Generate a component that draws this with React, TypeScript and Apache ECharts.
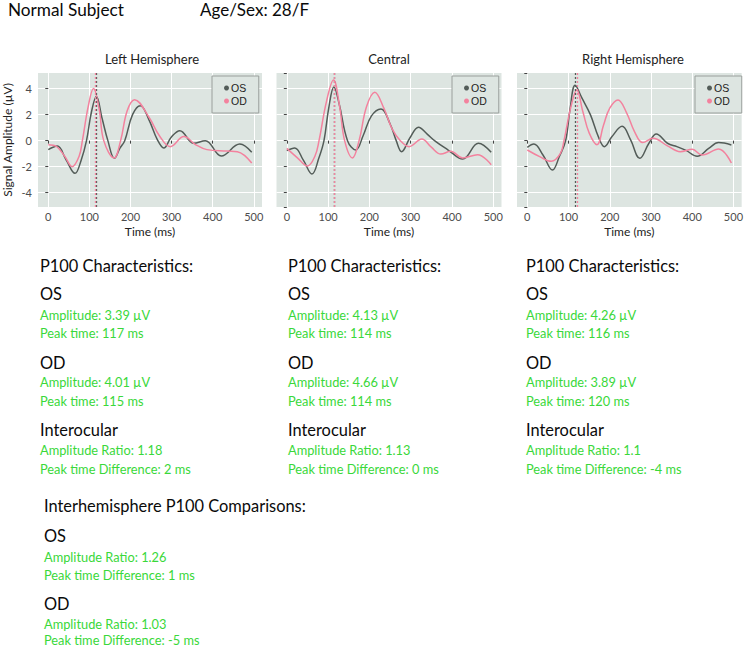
import React, { useEffect, useRef } from "react";
import * as echarts from "echarts";

// ---------- data ----------
const panelTitles = ["Left Hemisphere", "Central", "Right Hemisphere"];
const eyeNames = ["OS", "OD"];

const leftOsTime = [0, 22, 43, 65, 80, 93, 105, 117, 131, 145, 161, 174, 186, 205, 224, 245, 265, 281, 300, 320, 354, 382, 421, 466, 495];
const leftOsAmp = [-0.69, -0.41, -1.45, -2.51, -1.5, 0, 2.2, 3.39, 1.7, 0, -1.36, -0.6, 0, 2.0, 2.69, 1.6, 0.1, -0.56, 0.3, 0.77, -0.2, 0.0, -1.18, -0.26, -0.9];
const leftOdTime = [0, 20, 40, 58, 75, 83, 97, 110, 124, 135, 160, 176, 192, 210, 245, 270, 297, 330, 358, 386, 435, 460, 495];
const leftOdAmp = [-0.31, -0.45, -1.2, -2.0, -1.2, 0, 2.6, 4.01, 2.4, 0, -1.33, 0, 2.3, 3.15, 1.8, 0.4, -0.46, 0.31, -0.3, -0.69, -0.8, -0.85, -1.72];

const centralOsTime = [0, 19, 40, 61, 78, 90, 102, 114, 127, 147, 167, 185, 205, 228, 250, 265, 278, 298, 319, 340, 361, 390, 426, 464, 495];
const centralOsAmp = [-0.77, -0.56, -1.5, -2.56, -1.3, 0, 2.6, 4.13, 2.8, 0, -0.72, 0.4, 1.9, 2.44, 1.3, 0, -0.85, 0.2, 1.03, 0.5, -0.08, -0.7, -1.41, -0.2, -0.9];
const centralOdTime = [0, 25, 50, 68, 78, 96, 113, 128, 140, 159, 175, 193, 213, 235, 255, 275, 296, 327, 350, 373, 397, 426, 462, 495];
const centralOdAmp = [-0.59, -1.3, -1.95, -1.2, 0, 3.0, 4.66, 2.6, 0, -1.33, 0, 2.6, 3.72, 2.5, 0.9, 0, -0.46, 0.13, -0.5, -1.03, -0.82, -1.33, -1.08, -1.85];

const rightOsTime = [0, 16, 38, 61, 78, 93, 104, 116, 132, 153, 173, 187, 205, 230, 250, 273, 295, 313, 340, 363, 385, 412, 440, 464, 495];
const rightOsAmp = [-0.51, -0.26, -1.1, -2.26, -1.2, 0, 2.5, 4.26, 3.3, 2.0, 0.25, -0.46, 0.3, 1.1, 0.1, -1.36, -0.2, 0.51, -0.2, -0.46, -0.75, -1.2, -0.6, -0.15, -0.33];
const rightOdTime = [0, 30, 58, 80, 89, 105, 120, 135, 150, 169, 185, 200, 220, 240, 260, 280, 305, 340, 371, 400, 424, 464, 495];
const rightOdAmp = [-0.72, -1.23, -1.59, -1.0, 0, 2.5, 3.89, 2.2, 0.6, -0.31, 1.2, 2.5, 3.13, 2.2, 0.7, -0.15, 0.18, -0.4, -0.85, -0.67, -1.1, -0.64, -1.72];

const osPeakAmp = [3.39, 4.13, 4.26];
const osPeakTime = [117, 114, 116];
const odPeakAmp = [4.01, 4.66, 3.89];
const odPeakTime = [115, 114, 120];
const interAmpRatio = [1.18, 1.13, 1.1];
const interPeakDiff = [2, 0, -4];

const hemiAmpRatio = [1.26, 1.03];
const hemiPeakDiff = [1, -5];

const subjectLabel = "Normal Subject";
const ageSexLabel = "Age/Sex: 28/F";

// ---------- styles ----------
const OS_COLOR = "#535c58";
const OD_COLOR = "#f3829e";
const PANEL_BG = "#dde5e1";
const GREEN = "#3ad83a";
const INK = "#0a0a0a";
const FONT = "Lato";
const HEAD = 16.4;
const SMALL = 12.8;

const gridLefts = [37, 276.5, 517];
const colX = [40, 288, 526];
const titleX = [152, 389, 633];

const zip = (t: number[], v: number[]) => t.map((x, i) => [x, v[i]]);

export default function App() {
  const ref = useRef<HTMLDivElement>(null);

  useEffect(() => {
    if (!ref.current) return;
    const chart = echarts.init(ref.current, undefined, { renderer: "svg" });

    const curves = [
      [zip(leftOsTime, leftOsAmp), zip(leftOdTime, leftOdAmp)],
      [zip(centralOsTime, centralOsAmp), zip(centralOdTime, centralOdAmp)],
      [zip(rightOsTime, rightOsAmp), zip(rightOdTime, rightOdAmp)],
    ];
    const peakTimes = [osPeakTime, odPeakTime];
    const colors = [OS_COLOR, OD_COLOR];

    const grids = gridLefts.map((l) => ({
      left: l,
      top: 73,
      width: 225,
      height: 134,
      show: true,
      backgroundColor: PANEL_BG,
      borderWidth: 0,
    }));

    const xAxes = gridLefts.map((_, i) => ({
      type: "value",
      gridIndex: i,
      min: -25,
      max: 520,
      splitNumber: 5,
      name: "Time (ms)",
      nameLocation: "middle",
      nameGap: 18,
      nameTextStyle: { fontFamily: FONT, fontSize: 12, color: "#222" },
      axisLine: { show: false },
      axisTick: { show: true, length: 3, lineStyle: { color: "#444" } },
      axisLabel: {
        fontFamily: FONT,
        fontSize: 11,
        color: "#4d4d4d",
        margin: 4,
        showMinLabel: false,
        showMaxLabel: false,
      },
      splitLine: { show: true, showMinLine: false, showMaxLine: false, lineStyle: { color: "#ffffff", width: 1 } },
    }));

    const yAxes = gridLefts.map((_, i) => ({
      type: "value",
      gridIndex: i,
      min: -5.1,
      max: 5.2,
      splitNumber: 5,
      name: i === 0 ? "Signal Amplitude (µV)" : "",
      nameLocation: "middle",
      nameGap: 25,
      nameTextStyle: { fontFamily: FONT, fontSize: 12, color: "#222" },
      axisLine: { show: false },
      axisTick: { show: true, length: 3, lineStyle: { color: "#444" } },
      axisLabel: {
        show: i === 0,
        fontFamily: FONT,
        fontSize: 11,
        color: "#4d4d4d",
        margin: 6,
        showMinLabel: false,
        showMaxLabel: false,
      },
      splitLine: { show: true, showMinLine: false, showMaxLine: false, lineStyle: { color: "#ffffff", width: 1 } },
    }));

    const series: any[] = [];
    curves.forEach((pair, p) => {
      pair.forEach((data, e) => {
        series.push({
          type: "line",
          name: eyeNames[e],
          xAxisIndex: p,
          yAxisIndex: p,
          data,
          smooth: 0.4,
          showSymbol: false,
          symbol: "circle",
          lineStyle: { color: colors[e], width: 1.5 },
          itemStyle: { color: colors[e] },
          z: 2 + e,
          markLine: {
            silent: true,
            symbol: ["none", "none"],
            label: { show: false },
            lineStyle: { color: colors[e], width: 1.3, type: [2, 2] },
            data: [{ xAxis: peakTimes[e][p] }],
          },
        });
      });
    });

    const legendLefts = [212, 452, 695];
    const legends = legendLefts.map((l) => ({
      data: eyeNames,
      orient: "vertical",
      left: l,
      top: 76,
      padding: [6, 12, 6, 12],
      itemGap: 1,
      itemWidth: 5,
      itemHeight: 5,
      icon: "circle",
      backgroundColor: PANEL_BG,
      borderColor: "#9a9f9c",
      borderWidth: 1,
      borderRadius: 0,
      selectedMode: false,
      textStyle: { fontFamily: "Liberation Sans", fontSize: 10.5, color: "#222", padding: [0, 0, 0, -3], lineHeight: 12 },
    }));

    const txt = (text: string, x: number, y: number, size: number, fill: string, align = "left") => ({
      type: "text",
      x,
      y,
      silent: true,
      style: {
        text,
        fontSize: size,
        fontFamily: FONT,
        fill,
        align,
        verticalAlign: "middle",
        textAlign: align,
        textVerticalAlign: "middle",
      },
    });

    const graphics: any[] = [];
    graphics.push(txt(subjectLabel, 8, 9, 17.2, INK));
    graphics.push(txt(ageSexLabel, 200, 9, 17, INK));
    panelTitles.forEach((t, i) => graphics.push(txt(t, titleX[i], 59, 13, "#222", "center")));

    colX.forEach((x, i) => {
      graphics.push(txt("P100 Characteristics:", x, 265, HEAD, INK));
      graphics.push(txt("OS", x, 293.5, HEAD, INK));
      graphics.push(txt(`Amplitude: ${osPeakAmp[i]} µV`, x, 314.5, SMALL, GREEN));
      graphics.push(txt(`Peak time: ${osPeakTime[i]} ms`, x, 333, SMALL, GREEN));
      graphics.push(txt("OD", x, 362, HEAD, INK));
      graphics.push(txt(`Amplitude: ${odPeakAmp[i]} µV`, x, 382, SMALL, GREEN));
      graphics.push(txt(`Peak time: ${odPeakTime[i]} ms`, x, 401, SMALL, GREEN));
      graphics.push(txt("Interocular", x, 429, HEAD, INK));
      graphics.push(txt(`Amplitude Ratio: ${interAmpRatio[i]}`, x, 450, SMALL, GREEN));
      graphics.push(txt(`Peak time Difference: ${interPeakDiff[i]} ms`, x, 468.5, SMALL, GREEN));
    });

    graphics.push(txt("Interhemisphere P100 Comparisons:", 44, 505, HEAD, INK));
    const hemiRows = [
      [535, 557, 575],
      [603, 624, 640],
    ];
    eyeNames.forEach((n, i) => {
      graphics.push(txt(n, 44, hemiRows[i][0], HEAD, INK));
      graphics.push(txt(`Amplitude Ratio: ${hemiAmpRatio[i]}`, 44, hemiRows[i][1], SMALL, GREEN));
      graphics.push(txt(`Peak time Difference: ${hemiPeakDiff[i]} ms`, 44, hemiRows[i][2], SMALL, GREEN));
    });

    chart.setOption({
      animation: false,
      backgroundColor: "#ffffff",
      grid: grids,
      xAxis: xAxes,
      yAxis: yAxes,
      legend: legends,
      series,
      graphic: graphics,
    });

    return () => chart.dispose();
  }, []);

  return (
    <div
      ref={ref}
      style={{ position: "absolute", left: 0, top: 0, width: 746, height: 647 }}
    />
  );
}
